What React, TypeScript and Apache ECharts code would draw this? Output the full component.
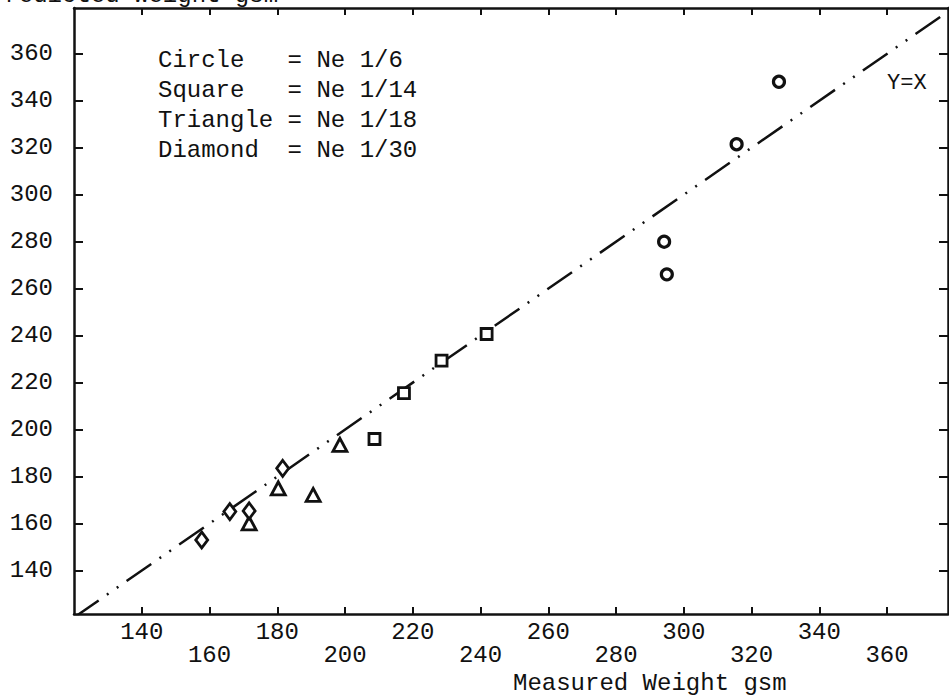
import React, { useEffect, useRef } from "react";
import * as echarts from "echarts";

// Data (Measured vs Predicted weight, gsm)
const circleX = [328.1, 315.6, 294.2, 295.0];
const circleY = [348.1, 321.5, 280.0, 266.1];
const squareX = [241.8, 228.5, 217.4, 208.7];
const squareY = [240.7, 229.4, 215.5, 196.0];
const triangleX = [198.5, 190.6, 180.3, 171.7];
const triangleY = [193.5, 172.2, 175.0, 160.1];
const diamondX = [181.6, 166.0, 171.7, 157.7];
const diamondY = [183.5, 165.1, 165.4, 153.0];
const identityLine = [120, 380];
const xTicks = [140, 160, 180, 200, 220, 240, 260, 280, 300, 320, 340, 360];
const yTicks = [140, 160, 180, 200, 220, 240, 260, 280, 300, 320, 340, 360];
const legendLines = [
  "Circle   = Ne 1/6",
  "Square   = Ne 1/14",
  "Triangle = Ne 1/18",
  "Diamond  = Ne 1/30",
];
const xTitle = "Measured Weight gsm";
const yTitle = "Predicted Weight gsm";
const lineLabel = "Y=X";

const FONT = "'Liberation Mono', 'DejaVu Sans Mono', monospace";
const INK = "#111";

function pairs(xs: number[], ys: number[]) {
  return xs.map((x, i) => [x, ys[i]]);
}

export default function App() {
  const ref = useRef<HTMLDivElement>(null);
  useEffect(() => {
    document.body.style.margin = "0";
    const chart = echarts.init(ref.current!, null, { renderer: "svg" });
    const markerStyle = { color: "#fff", borderColor: INK, borderWidth: 2.8, opacity: 1 };
    const axisBase = {
      type: "value" as const,
      axisLine: { show: true, onZero: false, lineStyle: { color: INK, width: 2.5 } },
      splitLine: { show: false },
    };
    chart.setOption({
      animation: false,
      backgroundColor: "#fff",
      grid: { left: 74, right: 1, top: 8, bottom: 84 },
      xAxis: [
        {
          ...axisBase,
          position: "bottom",
          min: 120,
          max: 378,
          axisTick: { show: true, inside: true, length: 7, customValues: xTicks, lineStyle: { color: INK, width: 2 } },
          axisLabel: {
            show: true,
            customValues: xTicks,
            margin: 7,
            fontFamily: FONT,
            fontSize: 24,
            lineHeight: 23,
            color: INK,
            formatter: (v: number) => (((v - 140) / 20) % 2 === 0 ? String(v) : "\n" + v),
          },
        },
        {
          ...axisBase,
          position: "top",
          min: 120,
          max: 378,
          axisTick: { show: true, inside: true, length: 7, customValues: xTicks, lineStyle: { color: INK, width: 2 } },
          axisLabel: { show: false },
        },
      ],
      yAxis: [
        {
          ...axisBase,
          position: "left",
          min: 121.5,
          max: 379.5,
          axisTick: { show: true, inside: true, length: 9, customValues: yTicks, lineStyle: { color: INK, width: 2 } },
          axisLabel: {
            show: true,
            customValues: yTicks,
            margin: 21,
            fontFamily: FONT,
            fontSize: 24,
            color: INK,
          },
        },
        {
          ...axisBase,
          position: "right",
          min: 121.5,
          max: 379.5,
          axisTick: { show: true, inside: true, length: 9, customValues: yTicks, lineStyle: { color: INK, width: 2 } },
          axisLabel: { show: false },
        },
      ],
      series: [
        {
          type: "line",
          data: [
            [identityLine[0], identityLine[0]],
            [identityLine[1], identityLine[1]],
          ],
          showSymbol: false,
          clip: true,
          lineStyle: { color: INK, width: 2.5, type: [30, 10, 2, 10, 2, 10] },
          silent: true,
          z: 1,
        },
        {
          type: "scatter",
          data: pairs(circleX, circleY),
          symbol: "circle",
          symbolSize: 11,
          itemStyle: { ...markerStyle, borderWidth: 3.2 },
          z: 3,
        },
        {
          type: "scatter",
          data: pairs(squareX, squareY),
          symbol: "rect",
          symbolSize: 11,
          itemStyle: markerStyle,
          z: 3,
        },
        {
          type: "scatter",
          data: pairs(triangleX, triangleY),
          symbol: "triangle",
          symbolSize: [14, 13],
          itemStyle: markerStyle,
          z: 3,
        },
        {
          type: "scatter",
          data: pairs(diamondX, diamondY),
          symbol: "diamond",
          symbolSize: [12, 16],
          itemStyle: markerStyle,
          z: 3,
        },
      ],
      graphic: [
        {
          type: "text",
          x: -10,
          y: -5,
          style: { text: yTitle, fontFamily: FONT, fontSize: 24, fill: INK, textAlign: "left", textVerticalAlign: "middle" },
        },
        ...legendLines.map((t, i) => ({
          type: "text",
          x: 158,
          y: 60 + i * 30,
          style: { text: t, fontFamily: FONT, fontSize: 24, fill: INK, textAlign: "left", textVerticalAlign: "middle" },
        })),
        {
          type: "text",
          x: 887,
          y: 83,
          style: { text: lineLabel, fontFamily: FONT, fontSize: 22, fill: INK, textAlign: "left", textVerticalAlign: "middle" },
        },
        {
          type: "text",
          x: 513,
          y: 683,
          style: { text: xTitle, fontFamily: FONT, fontSize: 24, fill: INK, textAlign: "left", textVerticalAlign: "middle" },
        },
      ],
    });
    return () => chart.dispose();
  }, []);
  return (
    <div
      ref={ref}
      style={{ position: "fixed", left: 0, top: 0, width: 949, height: 698, background: "#fff" }}
    />
  );
}
